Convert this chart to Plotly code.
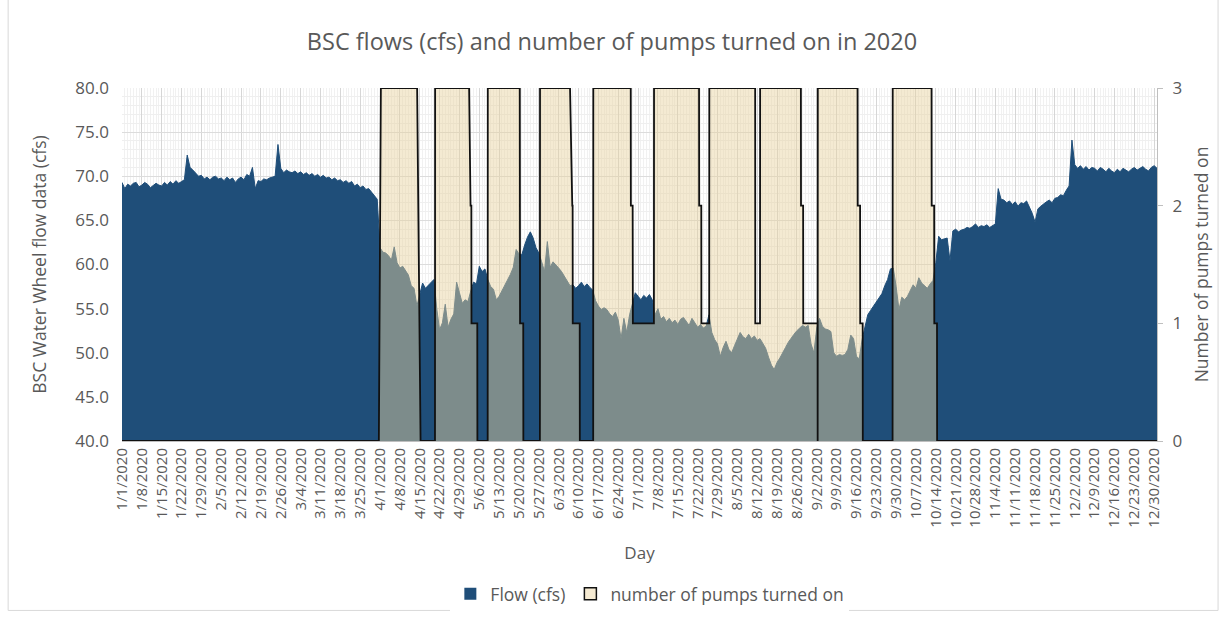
import pandas as pd
import plotly.graph_objects as go

# Daily BSC water wheel flow (cfs), one value per day of 2020
flow_jan = [69.3, 68.6, 69.1, 68.9, 69.2, 69.3, 68.8, 69.0, 69.3, 69.1,
            68.7, 69.0, 69.2, 69.0, 68.9, 69.3, 69.0, 69.4, 69.1, 69.5,
            69.2, 69.4, 69.6, 72.4, 71.0, 70.7, 70.3, 70.0, 70.1, 69.7, 69.9]
flow_feb = [69.6, 69.9, 70.0, 69.7, 69.8, 69.5, 69.9, 69.6, 69.8, 69.3,
            69.7, 69.9, 69.6, 70.2, 70.0, 71.0, 68.6, 69.5, 69.4, 69.7,
            69.6, 69.8, 69.9, 70.0, 73.6, 70.9, 70.4, 70.7, 70.5]
flow_mar = [70.4, 70.6, 70.3, 70.5, 70.2, 70.4, 70.1, 70.3, 70.0, 70.2,
            69.9, 70.1, 69.8, 69.9, 69.6, 69.8, 69.5, 69.6, 69.3, 69.5,
            69.2, 69.4, 68.9, 69.1, 68.7, 68.9, 68.5, 68.6, 68.2, 67.9, 67.4]
flow_apr = [61.9, 61.4, 61.3, 61.0, 60.5, 62.0, 60.2, 59.6, 59.8, 59.3,
            58.8, 57.6, 57.3, 55.3, 56.6, 57.9, 57.3, 57.6, 57.9, 58.3,
            55.0, 52.6, 53.4, 55.5, 52.9, 53.8, 54.4, 58.0, 56.8, 55.6]
flow_may = [56.0, 55.8, 57.0, 58.0, 57.8, 59.8, 59.2, 59.5, 58.3, 57.5,
            57.2, 56.0, 56.4, 57.0, 57.6, 58.3, 58.9, 59.7, 61.7, 61.2,
            61.1, 62.2, 63.1, 63.7, 63.0, 61.9, 61.3, 60.3, 59.2, 62.6, 59.7]
flow_jun = [60.3, 60.0, 59.6, 59.2, 58.7, 58.2, 57.6, 57.7, 57.3, 57.6,
            58.0, 57.5, 57.8, 57.4, 57.1, 55.9, 55.3, 54.9, 55.1, 54.9,
            54.4, 54.1, 54.6, 53.7, 51.6, 53.9, 52.3, 54.3, 55.5, 56.8]
flow_jul = [56.4, 56.0, 56.5, 56.2, 56.6, 56.0, 54.3, 55.0, 53.8, 54.1,
            53.5, 53.9, 53.4, 53.7, 53.2, 53.8, 54.0, 53.5, 53.1, 53.9,
            53.4, 52.9, 53.2, 52.8, 53.0, 54.3, 52.3, 51.5, 51.0, 49.6, 50.6]
flow_aug = [51.3, 50.4, 50.0, 50.8, 51.5, 52.3, 51.8, 51.6, 52.1, 51.6,
            51.9, 51.4, 51.6, 51.0, 50.5, 49.5, 48.6, 48.1, 48.9, 49.4,
            50.1, 50.6, 51.2, 51.7, 52.1, 52.5, 52.8, 53.1, 52.9, 53.1, 51.0]
flow_sep = [50.0, 52.8, 53.9, 53.0, 52.7, 52.6, 52.4, 50.0, 49.6, 49.8,
            49.7, 49.8, 50.4, 52.0, 51.6, 49.6, 49.3, 51.5, 52.8, 54.3,
            54.8, 55.3, 55.7, 56.2, 56.7, 57.6, 58.3, 59.5, 59.6, 57.5]
flow_oct = [54.9, 56.3, 56.0, 56.4, 57.1, 57.7, 57.3, 58.5, 57.9, 57.6,
            57.3, 57.8, 58.2, 60.2, 63.2, 62.8, 62.9, 63.0, 60.4, 63.8,
            64.0, 63.7, 63.9, 64.0, 64.2, 64.1, 64.3, 64.6, 64.2, 64.4, 64.3]
flow_nov = [64.5, 64.2, 64.4, 64.6, 68.6, 67.4, 67.3, 67.0, 67.2, 66.8,
            67.1, 66.6, 67.0, 66.9, 67.2, 66.5, 65.8, 64.8, 66.3, 66.6,
            66.9, 67.1, 67.3, 67.0, 67.5, 67.6, 67.9, 67.8, 68.4, 68.9]
flow_dec = [74.1, 71.3, 70.9, 71.2, 70.8, 71.1, 70.7, 71.0, 70.9, 70.6,
            71.0, 70.8, 70.5, 70.9, 70.6, 70.4, 70.8, 70.5, 70.9, 70.7,
            70.5, 70.8, 71.0, 70.7, 70.9, 71.1, 70.8, 70.6, 71.0, 71.2, 70.9]

flow_cfs = (flow_jan + flow_feb + flow_mar + flow_apr + flow_may + flow_jun +
            flow_jul + flow_aug + flow_sep + flow_oct + flow_nov + flow_dec)
flow_days = pd.date_range("2020-01-01", "2020-12-31", freq="D")

# Pump log: time stamp and number of pumps running at that moment
pump_times = [
    "2020-01-01 00:00", "2020-03-31 14:00", "2020-04-01 07:00", "2020-04-14 02:00",
    "2020-04-15 07:00", "2020-04-20 09:00", "2020-04-20 10:00", "2020-05-02 10:00",
    "2020-05-02 22:00", "2020-05-03 05:00", "2020-05-03 06:00", "2020-05-05 07:00",
    "2020-05-05 08:00", "2020-05-08 23:00", "2020-05-09 00:00", "2020-05-20 07:00",
    "2020-05-20 09:00", "2020-05-21 12:00", "2020-05-21 13:00", "2020-05-27 09:00",
    "2020-05-27 10:00", "2020-06-07 00:00", "2020-06-07 19:00", "2020-06-07 22:00",
    "2020-06-07 23:00", "2020-06-10 10:00", "2020-06-10 11:00", "2020-06-15 04:00",
    "2020-06-15 05:00", "2020-06-28 10:00", "2020-06-28 11:00", "2020-06-29 02:00",
    "2020-06-29 04:00", "2020-07-06 14:00", "2020-07-06 15:00", "2020-07-22 12:00",
    "2020-07-22 13:00", "2020-07-23 07:00", "2020-07-23 08:00", "2020-07-26 02:00",
    "2020-07-26 03:00", "2020-08-11 07:00", "2020-08-11 08:00", "2020-08-13 00:00",
    "2020-08-13 01:00", "2020-08-27 10:00", "2020-08-27 11:00", "2020-08-28 05:00",
    "2020-08-28 06:00", "2020-09-02 07:00", "2020-09-02 08:00", "2020-09-02 09:00",
    "2020-09-16 10:00", "2020-09-16 11:00", "2020-09-17 07:00", "2020-09-17 08:00",
    "2020-09-18 05:00", "2020-09-18 06:00", "2020-09-28 18:00", "2020-09-28 19:00",
    "2020-10-12 12:00", "2020-10-12 13:00", "2020-10-13 10:00", "2020-10-13 11:00",
    "2020-10-14 10:00", "2020-10-14 11:00", "2020-12-31 00:00",
]
pump_counts = [
    0, 0, 3, 3,
    0, 0, 3, 3,
    2, 2, 1, 1,
    0, 0, 3, 3,
    1, 1, 0, 0,
    3, 3, 2, 2,
    1, 1, 0, 0,
    3, 3, 2, 2,
    1, 1, 3, 3,
    2, 2, 1, 1,
    3, 3, 1, 1,
    3, 3, 2, 2,
    1, 1, 0, 3,
    3, 2, 2, 1,
    1, 0, 0, 3,
    3, 2, 2, 1,
    1, 0, 0,
]

week_ticks = pd.date_range("2020-01-01", "2020-12-30", freq="7D")

FLOW_BLUE = "#1f4e79"
PUMP_FILL = "rgba(232,210,160,0.47)"
TEXT_GREY = "#595959"
FONT = "Open Sans"

fig = go.Figure()

fig.add_trace(go.Scatter(
    x=flow_days, y=flow_cfs, mode="lines", fill="tozeroy",
    line=dict(color=FLOW_BLUE, width=1), fillcolor=FLOW_BLUE,
    showlegend=False, hoverinfo="x+y", name="Flow (cfs)",
))
fig.add_trace(go.Scatter(
    x=pump_times, y=pump_counts, mode="lines", fill="tozeroy",
    line=dict(color="#111111", width=1.8), fillcolor=PUMP_FILL,
    yaxis="y2", showlegend=False, name="number of pumps turned on",
))

# legend swatches drawn as square keys
fig.add_trace(go.Bar(x=[None], y=[None], name="Flow (cfs)",
                     marker=dict(color=FLOW_BLUE, line=dict(width=0))))
fig.add_trace(go.Bar(x=[None], y=[None], name="number of pumps turned on",
                     marker=dict(color="#f5ead2", line=dict(color="#111111", width=1.5))))

fig.update_layout(
    width=1224, height=622,
    margin=dict(l=122, r=67, t=88, b=180),
    paper_bgcolor="white", plot_bgcolor="white",
    font=dict(family=FONT, color=TEXT_GREY, size=15),
    title=dict(text="BSC flows (cfs) and number of pumps turned on in 2020",
               x=0.5, xanchor="center", xref="container",
               y=1 - 42 / 622, yanchor="middle", yref="container",
               font=dict(size=23.5, color=TEXT_GREY, family=FONT)),
    xaxis=dict(
        type="date", range=["2020-01-01", "2020-12-31"],
        tickmode="array", tickvals=week_ticks, tickformat="%-m/%-d/%Y",
        tickangle=-90, tickfont=dict(size=15, color=TEXT_GREY),
        showgrid=True, gridcolor="#d6d6d6", gridwidth=1,
        minor=dict(dtick=86400000, tick0="2020-01-01", showgrid=True,
                   gridcolor="#f1f1f1", gridwidth=1),
        showline=True, linecolor="#bfbfbf", linewidth=1,
        ticks="", zeroline=False,
        title=dict(text="Day", font=dict(size=17, color=TEXT_GREY), standoff=20),
    ),
    yaxis=dict(
        range=[40, 80], dtick=5, tickformat=".1f",
        tickfont=dict(size=17, color=TEXT_GREY),
        showgrid=True, gridcolor="#dcdcdc", gridwidth=1,
        minor=dict(dtick=1, showgrid=True, gridcolor="#efefef", gridwidth=1),
        zeroline=False, showline=False, ticks="", ticklabelstandoff=12,
        title=dict(text="BSC Water Wheel flow data (cfs)",
                   font=dict(size=17.5, color=TEXT_GREY), standoff=24),
    ),
    yaxis2=dict(
        range=[0, 3], dtick=1, overlaying="y", side="right",
        tickfont=dict(size=17, color=TEXT_GREY),
        showgrid=False, zeroline=False,
        showline=True, linecolor="#bfbfbf", linewidth=1,
        ticks="outside", ticklen=5, tickcolor="#bfbfbf", ticklabelstandoff=6,
        title=dict(text="Number of pumps turned on",
                   font=dict(size=17.5, color=TEXT_GREY), standoff=14),
    ),
    legend=dict(orientation="h", x=0.51, xanchor="center",
                y=-0.429, yanchor="middle",
                font=dict(size=17.5, color=TEXT_GREY), traceorder="normal"),
    shapes=[dict(type="rect", xref="paper", yref="paper",
                 x0=-0.110, x1=1.059, y0=-0.480, y1=1.30,
                 line=dict(color="#d9d9d9", width=1), layer="below")],
)

fig.write_html("out.html")
